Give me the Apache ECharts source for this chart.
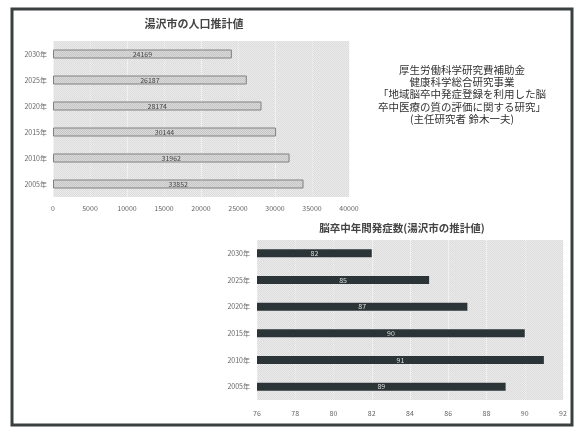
<!DOCTYPE html>
<html><head><meta charset="utf-8">
<script src="https://cdn.jsdelivr.net/npm/echarts@6/dist/echarts.min.js"></script>
<style>html,body{margin:0;padding:0;background:#fff}#c{width:578px;height:428px}</style>
</head><body><div id="c"></div>
<script>
var years = ['2005年','2010年','2015年','2020年','2025年','2030年'];
var population = [33852, 31962, 30144, 28174, 26187, 24169];
var strokes = [89, 91, 90, 87, 85, 82];
var popTicks = [0, 40000, 5000];
var strokeTicks = [76, 92, 2];
var title1 = '湯沢市の人口推計値';
var title2 = '脳卒中年間発症数(湯沢市の推計値)';
var noteLines = ['厚生労働科学研究費補助金','健康科学総合研究事業','「地域脳卒中発症登録を利用した脳','卒中医療の質の評価に関する研究」','(主任研究者 鈴木一夫)'];

function pattern(a, b) {
  var c = document.createElement('canvas'); c.width = 2; c.height = 2;
  var x = c.getContext('2d');
  x.fillStyle = a; x.fillRect(0,0,2,2);
  x.fillStyle = b; x.fillRect(0,0,1,1); x.fillRect(1,1,1,1);
  return {image: c, repeat: 'repeat'};
}
var FONT = '"Noto Sans CJK JP", "Noto Sans", sans-serif';
var chart = echarts.init(document.getElementById('c'), null, {renderer: 'canvas'});
var lbl = {fontSize: 7, color: '#666', fontFamily: FONT};
chart.setOption({
  backgroundColor: '#fff',
  animation: false,
  title: [
    {text: title1, left: 189, top: 13, textAlign: 'center',
     textStyle: {fontSize: 11, fontWeight: 'bold', color: '#444', fontFamily: FONT}},
    {text: title2, left: 397, top: 218, textAlign: 'center',
     textStyle: {fontSize: 10.5, fontWeight: 'bold', color: '#444', fontFamily: FONT}}
  ],
  grid: [
    {left: 53, right: 229, top: 41, bottom: 231, show: true, borderWidth: 0,
     backgroundColor: pattern('#ebebeb', '#dcdcdc')},
    {left: 257, right: 15, top: 240, bottom: 28, show: true, borderWidth: 0,
     backgroundColor: pattern('#ebebeb', '#dcdcdc')}
  ],
  xAxis: [
    {gridIndex: 0, type: 'value', min: popTicks[0], max: popTicks[1], interval: popTicks[2],
     axisLine: {show: false}, axisTick: {show: false},
     axisLabel: Object.assign({margin: 8, formatter: function (v) { return String(v); }}, lbl),
     splitLine: {lineStyle: {color: '#f6f6f6', type: 'dotted', width: 1}}},
    {gridIndex: 1, type: 'value', min: strokeTicks[0], max: strokeTicks[1], interval: strokeTicks[2],
     axisLine: {show: false}, axisTick: {show: false},
     axisLabel: Object.assign({margin: 10}, lbl),
     splitLine: {lineStyle: {color: '#f6f6f6', type: 'dotted', width: 1}}}
  ],
  yAxis: [
    {gridIndex: 0, type: 'category', data: years, axisLine: {show: false}, axisTick: {show: false},
     axisLabel: Object.assign({margin: 6}, lbl)},
    {gridIndex: 1, type: 'category', data: years, axisLine: {show: false}, axisTick: {show: false},
     axisLabel: Object.assign({margin: 7}, lbl)}
  ],
  series: [
    {type: 'bar', xAxisIndex: 0, yAxisIndex: 0, data: population, barWidth: 9,
     itemStyle: {color: pattern('#dadada', '#c6c6c6'), borderColor: '#808080', borderWidth: 1},
     label: {show: true, position: 'inside', fontSize: 7, color: '#444', fontFamily: FONT,
             formatter: function (p) { return String(p.value); }}},
    {type: 'bar', xAxisIndex: 1, yAxisIndex: 1, data: strokes, barWidth: 8,
     itemStyle: {color: '#2b3538'},
     label: {show: true, position: 'inside', fontSize: 7, color: '#ddd', fontFamily: FONT}}
  ],
  graphic: [
    {type: 'rect', shape: {x: 12, y: 9, width: 560, height: 416},
     style: {fill: 'none', stroke: '#3a3f40', lineWidth: 3}, silent: true},
    {type: 'text', x: 462, y: 64, silent: true,
     style: {text: noteLines.join('\n'), textAlign: 'center', textVerticalAlign: 'top',
             fontSize: 10.5, lineHeight: 12.2, fill: '#333', fontFamily: FONT}}
  ]
});
</script></body></html>
